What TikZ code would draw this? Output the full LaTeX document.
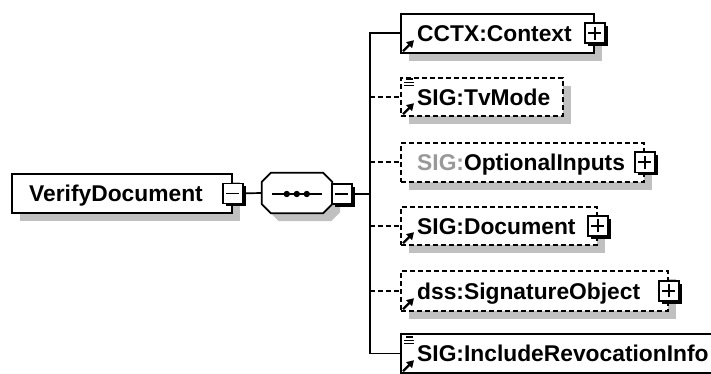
\documentclass[tikz,border=0pt]{standalone}
\usepackage{fontspec}
\setmainfont{Liberation Sans}
\usetikzlibrary{arrows.meta,shadows,calc}
\definecolor{shd}{HTML}{C0C0C0}
\definecolor{gtxt}{HTML}{999999}
\tikzset{
  elbox/.style={draw=black, line width=1.7pt, fill=white, rectangle, inner sep=0pt, anchor=north west,
    drop shadow={shadow xshift=8pt, shadow yshift=-8pt, fill=shd, opacity=1}},
  optbox/.style={elbox, dash pattern=on 5pt off 3pt},
  lbl/.style={anchor=base west, inner sep=0pt, font=\fontsize{22.8}{27}\selectfont\bfseries},
  conn/.style={line width=1.7pt},
  optconn/.style={conn, dash pattern=on 5pt off 3pt},
  pm/.style={draw=black, line width=1.7pt, fill=white, rectangle, minimum size=20pt, inner sep=0pt,
    drop shadow={shadow xshift=3pt, shadow yshift=-3pt, fill=black, opacity=1}},
  sign/.style={line width=1.7pt},
  refarrow/.style={line width=2.4pt, -{Triangle[length=7pt,width=8pt]}},
  icolines/.style={line width=1.3pt},
}
\newcommand\plusminus[3]{% name, anchor point, 1=plus 0=minus
  \node[pm] (#1) at (#2) {};
  \draw[sign] ([xshift=-6.5pt]#1.center) -- ([xshift=6.5pt]#1.center);
  \ifnum#3=1 \draw[sign] ([yshift=-6.5pt]#1.center) -- ([yshift=6.5pt]#1.center);\fi
}
\newcommand\refarr[1]{\draw[refarrow] ([xshift=3pt,yshift=2.5pt]#1.south west) -- ++(11,-11);}
\newcommand\linesicon[2]{% box, yshift from top
  \draw[icolines] ([xshift=6pt,yshift=-#2pt]#1.north west) -- ++(7,0);
  \draw[icolines] ([xshift=4pt,yshift=-#2pt-3.2pt]#1.north west) -- ++(10,0);
  \draw[icolines] ([xshift=4pt,yshift=-#2pt-6.4pt]#1.north west) -- ++(10,0);
}
\begin{document}
\begin{tikzpicture}[x=1pt,y=-1pt]
\useasboundingbox (0,0) rectangle (711,374);
\clip (0,0) rectangle (711,374);

% root element
\node[elbox, minimum width=220pt, minimum height=39pt] (vd) at (11,173) {};
\node[lbl] (vdt) at ([xshift=18pt,yshift=-8.5pt]vd.west) {VerifyDocument};
\plusminus{vdpm}{vd.east}{0}

% sequence compositor
\node[inner sep=0pt, minimum width=70pt, minimum height=40pt] (seq) at (297,193) {};
\fill[shd] ($(seq.north west)+(17,8)$) -- ($(seq.north east)+(-1,8)$) -- ($(seq.north east)+(8,17)$)
  -- ($(seq.south east)+(8,-1)$) -- ($(seq.south east)+(-1,8)$) -- ($(seq.south west)+(17,8)$)
  -- ($(seq.south west)+(8,-1)$) -- ($(seq.north west)+(8,17)$) -- cycle;
\draw[line width=1.7pt, fill=white] ($(seq.north west)+(9,0)$) -- ($(seq.north east)+(-9,0)$) -- ($(seq.north east)+(0,9)$)
  -- ($(seq.south east)+(0,-9)$) -- ($(seq.south east)+(-9,0)$) -- ($(seq.south west)+(9,0)$)
  -- ($(seq.south west)+(0,-9)$) -- ($(seq.north west)+(0,9)$) -- cycle;
\draw[line width=1.7pt] ($(seq.west)+(10,1)$) -- ($(seq.east)+(-10,1)$);
\foreach \dx in {25,35,45} \fill ($(seq.west)+(\dx,1)$) circle[radius=3.2pt];
\plusminus{seqpm}{$(seq.east)+(9.5,1)$}{0}
\draw[conn] (vdpm.east) -- (seq.west);

% children
\node[elbox, minimum width=193pt, minimum height=39pt] (ctx) at (400,13) {};
\node[lbl] (ctxt) at ([xshift=17pt,yshift=-8.5pt]ctx.west) {CCTX:Context};
\plusminus{ctxpm}{ctx.east}{1}
\refarr{ctx}

\node[optbox, minimum width=162pt, minimum height=38pt] (tvm) at (400,77) {};
\node[lbl] (tvmt) at ([xshift=17pt,yshift=-8.5pt]tvm.west) {SIG:TvMode};
\refarr{tvm}
\linesicon{tvm}{2}

\node[optbox, minimum width=243pt, minimum height=39pt] (opt) at (400,142) {};
\node[lbl] (optt) at ([xshift=17pt,yshift=-8.5pt]opt.west) {{\color{gtxt}SIG:}OptionalInputs};
\plusminus{optpm}{opt.east}{1}

\node[optbox, minimum width=196pt, minimum height=38pt] (doc) at (400,206) {};
\node[lbl] (doct) at ([xshift=17pt,yshift=-8.5pt]doc.west) {SIG:Document};
\plusminus{docpm}{doc.east}{1}
\refarr{doc}

\node[optbox, minimum width=267pt, minimum height=40pt] (sig) at (400,270) {};
\node[lbl] (sigt) at ([xshift=17pt,yshift=-8.5pt]sig.west) {dss:SignatureObject};
\plusminus{sigpm}{sig.east}{1}
\refarr{sig}

\node[elbox, minimum width=330pt, minimum height=39pt] (inc) at (400,333) {};
\node[lbl] (inct) at ([xshift=17pt,yshift=-8.5pt]inc.west) {SIG:IncludeRevocationInfo};
\refarr{inc}
\linesicon{inc}{4}

% connectors
\coordinate (tj) at (370,194);
\draw[conn] (seqpm.east) -- (tj);
\draw[conn] (ctx.west) -| (tj) |- (inc.west);
\draw[optconn] (tvm.west -| tj) -- (tvm.west);
\draw[optconn] (opt.west -| tj) -- (opt.west);
\draw[optconn] (doc.west -| tj) -- (doc.west);
\draw[optconn] (sig.west -| tj) -- (sig.west);
\end{tikzpicture}
\end{document}
